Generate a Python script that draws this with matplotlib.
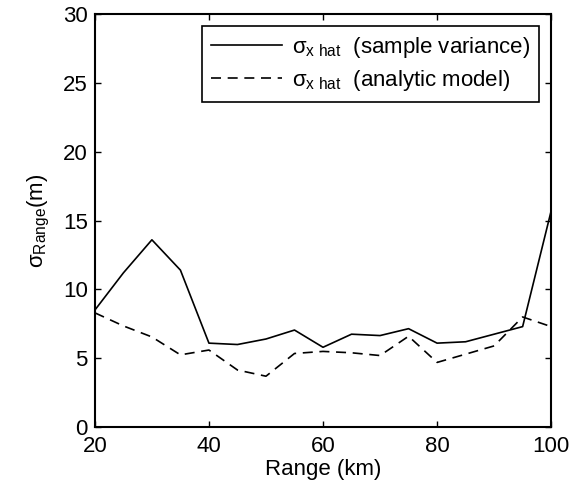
import matplotlib
matplotlib.use("Agg")
import matplotlib.pyplot as plt

range_km = [20, 25, 30, 35, 40, 45, 50, 55, 60, 65, 70, 75, 80, 85, 90, 95, 100]
sigma_sample = [8.5, 11.2, 13.6, 11.4, 6.1, 6.0, 6.4, 7.05, 5.8, 6.75, 6.65, 7.15, 6.1, 6.2, 6.75, 7.3, 15.7]
sigma_model = [8.3, 7.35, 6.55, 5.25, 5.6, 4.15, 3.7, 5.35, 5.5, 5.4, 5.2, 6.6, 4.7, 5.3, 5.9, 8.0, 7.3]

x_ticks = [20, 40, 60, 80, 100]
y_ticks = [0, 5, 10, 15, 20, 25, 30]

plt.rcParams["font.family"] = ["Liberation Sans", "DejaVu Sans"]
plt.rcParams["mathtext.fontset"] = "custom"
plt.rcParams["mathtext.rm"] = "Liberation Sans"
plt.rcParams["mathtext.it"] = "Liberation Sans:italic"

FS = 16

fig = plt.figure(figsize=(5.82, 4.95), dpi=100)
ax = fig.add_axes([0.163, 0.137, 0.784, 0.835])

ax.plot(range_km, sigma_sample, color="black", linewidth=1.2,
        label=r"$\mathrm{σ}_{\mathrm{x\ hat}}\ $ (sample variance)")
ax.plot(range_km, sigma_model, color="black", linewidth=1.2, linestyle=(0, (6, 4)),
        label=r"$\mathrm{σ}_{\mathrm{x\ hat}}\ $ (analytic model)")

ax.set_xlim(20, 100)
ax.set_ylim(0, 30)
ax.set_xticks(x_ticks)
ax.set_yticks(y_ticks)
ax.tick_params(direction="in", top=True, right=True, labelsize=FS, length=4, width=1)
ax.tick_params(axis="x", pad=6)
ax.tick_params(axis="y", pad=5)
for s in ax.spines.values():
    s.set_linewidth(1.5)

ax.set_xlabel("Range (km)", fontsize=FS, labelpad=2)
ax.set_ylabel(r"$\mathrm{σ}_{\mathrm{Range}}$(m)", fontsize=FS, labelpad=8)

leg = ax.legend(loc="upper right", fontsize=FS, fancybox=False, edgecolor="black",
                framealpha=1, handlelength=3.2, handletextpad=0.45,
                labelspacing=0.35, borderpad=0.4, borderaxespad=0.55)
leg.get_frame().set_linewidth(1.2)

fig.savefig("out.png", dpi=100)
plt.close(fig)
